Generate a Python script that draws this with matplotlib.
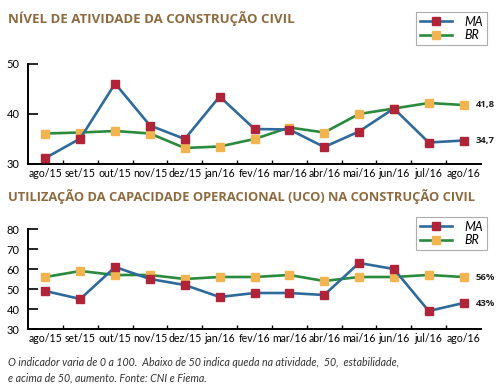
import matplotlib
matplotlib.use("Agg")
import matplotlib.pyplot as plt

months = ["ago/15", "set/15", "out/15", "nov/15", "dez/15", "jan/16", "fev/16",
          "mar/16", "abr/16", "mai/16", "jun/16", "jul/16", "ago/16"]
nivel_ma = [31.2, 35.1, 46.1, 37.7, 35.0, 43.5, 37.0, 36.9, 33.4, 36.5, 41.1, 34.3, 34.7]
nivel_br = [36.1, 36.3, 36.6, 36.1, 33.2, 33.5, 35.0, 37.3, 36.3, 40.0, 41.1, 42.2, 41.8]
uco_ma = [49, 45, 61, 55, 52, 46, 48, 48, 47, 63, 60, 39, 43]
uco_br = [56, 59, 57, 57, 55, 56, 56, 57, 54, 56, 56, 57, 56]
nivel_labels = ["41,8", "34,7"]
uco_labels = ["56%", "43%"]

title1 = "NÍVEL DE ATIVIDADE DA CONSTRUÇÃO CIVIL"
title2 = "UTILIZAÇÃO DA CAPACIDADE OPERACIONAL (UCO) NA CONSTRUÇÃO CIVIL"
footnote = ("O indicador varia de 0 a 100.  Abaixo de 50 indica queda na atividade,  50,  estabilidade,\n"
            "e acima de 50, aumento. Fonte: CNI e Fiema.")

plt.rcParams['font.family'] = ['Lato', 'DejaVu Sans']

W, H = 500, 390
fig = plt.figure(figsize=(5, 3.9), dpi=100)
fig.patch.set_facecolor("white")

blue = "#2F6B9A"
red = "#B0243A"
green = "#2A8A3E"
orange = "#F2B450"
title_col = "#8E6B3F"
bold_font = ["Open Sans", "DejaVu Sans"]


def make_axes(top_px, bottom_px):
    left, right = 28, 481
    return fig.add_axes([left / W, 1 - bottom_px / H, (right - left) / W, (bottom_px - top_px) / H])


def style(ax, ylim, yticks, ma, br, labels, anchor_top):
    x = list(range(len(months)))
    ax.plot(x, ma, color=blue, lw=1.9, marker="s", ms=6, mfc=red, mec=red, label="MA", zorder=3)
    ax.plot(x, br, color=green, lw=1.9, marker="s", ms=6, mfc=orange, mec=orange, label="BR", zorder=2)
    ax.set_xlim(-0.5, len(months) - 0.5)
    ax.set_ylim(*ylim)
    ax.set_yticks(yticks)
    ax.set_xticks(x)
    ax.set_xticklabels(months, fontsize=7.6)
    ax.set_xticks([i + 0.5 for i in range(len(months) - 1)], minor=True)
    ax.tick_params(axis="x", which="major", length=0, pad=3)
    ax.tick_params(axis="x", which="minor", length=3, width=1, direction="in", color="black")
    ax.tick_params(axis="y", length=7, width=1.2, direction="in", labelsize=8, pad=6)
    for s in ["top", "right"]:
        ax.spines[s].set_visible(False)
    ax.spines["left"].set_linewidth(1.4)
    ax.spines["bottom"].set_linewidth(1.4)
    n = len(months) - 1
    ax.annotate(labels[0], (n, br[-1]), xytext=(9, 0), textcoords="offset points",
                fontsize=6.8, fontweight="bold", va="center", color="#222222", family=bold_font)
    ax.annotate(labels[1], (n, ma[-1]), xytext=(9, 0), textcoords="offset points",
                fontsize=6.8, fontweight="bold", va="center", color="#222222", family=bold_font)
    leg = ax.legend(loc="upper right", bbox_to_anchor=(487 / W, 1 - anchor_top / H),
                    bbox_transform=fig.transFigure,
                    frameon=True, fancybox=False, prop={"style": "italic", "size": 9},
                    handlelength=2.6, borderpad=0.3, labelspacing=0.1, handletextpad=1.0,
                    markerscale=0.85, borderaxespad=0)
    leg.get_frame().set_edgecolor("#999999")
    leg.get_frame().set_linewidth(0.8)
    return leg


ax1 = make_axes(64, 164)
style(ax1, (30, 50), [30, 40, 50], nivel_ma, nivel_br, nivel_labels, 12)

ax2 = make_axes(229, 329)
style(ax2, (30, 80), [30, 40, 50, 60, 70, 80], uco_ma, uco_br, uco_labels, 217)

fig.text(8 / W, 1 - 18 / H, title1, fontsize=9.5, fontweight="bold", color=title_col, va="center",
         family=bold_font)
fig.text(8 / W, 1 - 197 / H, title2, fontsize=9.3, fontweight="bold", color=title_col, va="center",
         family=bold_font)
fig.text(8 / W, 1 - 370 / H, footnote, fontsize=7.7, style="italic", color="#333333",
         va="center", linespacing=1.55)

fig.savefig("out.png", dpi=100, facecolor="white")
